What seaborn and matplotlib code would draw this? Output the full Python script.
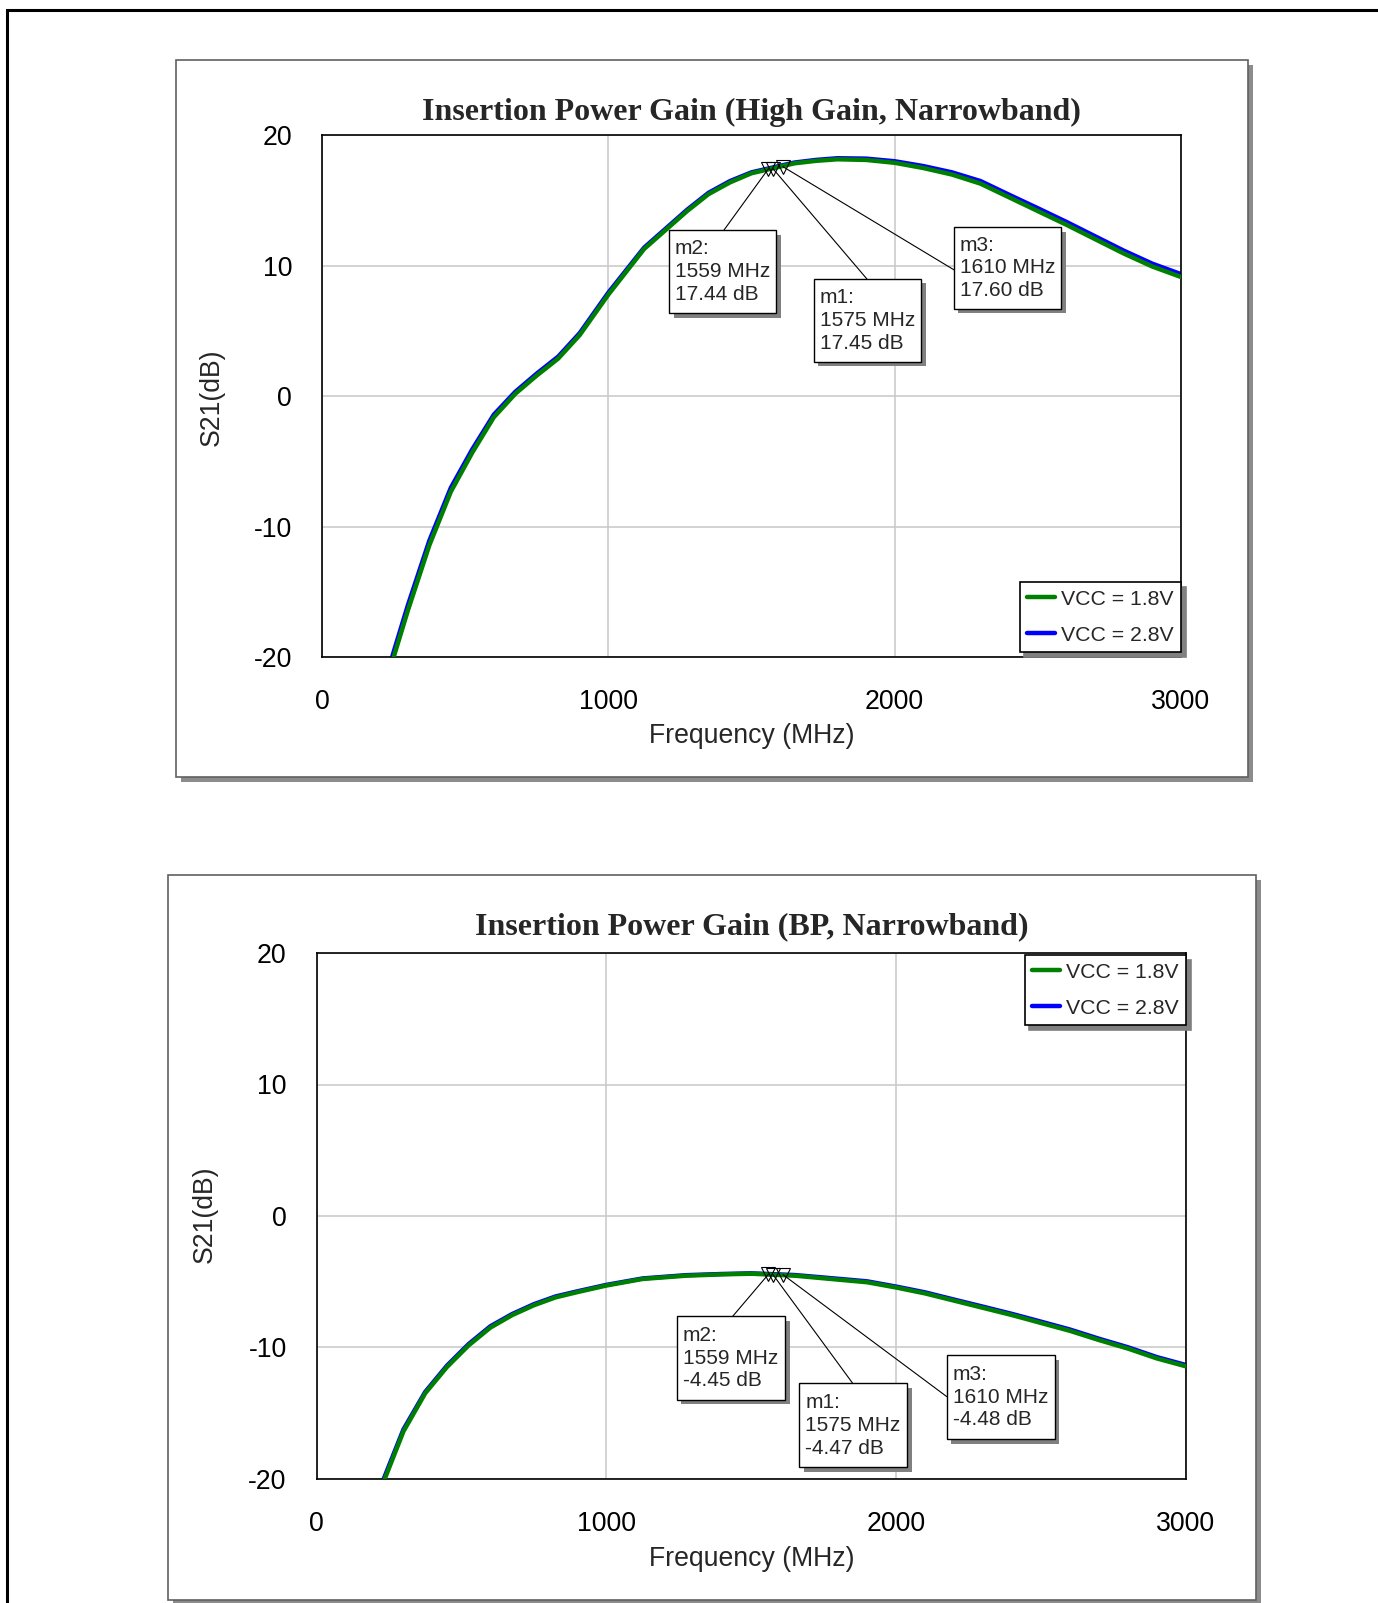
import matplotlib
matplotlib.use("Agg")
import matplotlib.pyplot as plt
import matplotlib.transforms as mtransforms
from matplotlib.patches import Rectangle
import seaborn as sns

# ---- data ----
# top chart: high gain, narrowband
freq_hg = [225, 250, 300, 375, 450, 525, 600, 675, 750, 825, 900, 1000, 1125, 1200,
           1275, 1350, 1425, 1500, 1650, 1725, 1800, 1900, 2000, 2100, 2200, 2300,
           2400, 2500, 2600, 2700, 2800, 2900, 3000]
s21_hg_18 = [-21.9, -20.0, -16.4, -11.4, -7.3, -4.3, -1.6, 0.2, 1.6, 2.9, 4.7, 7.8,
             11.3, 12.75, 14.2, 15.5, 16.4, 17.1, 17.86, 18.05, 18.17, 18.12, 17.9,
             17.5, 17.0, 16.3, 15.25, 14.2, 13.15, 12.05, 10.95, 9.95, 9.15]
s21_hg_28 = [-21.5, -19.6, -16.0, -11.05, -7.0, -4.05, -1.4, 0.35, 1.75, 3.05, 4.85,
             7.95, 11.4, 12.85, 14.3, 15.6, 16.5, 17.17, 17.92, 18.12, 18.25, 18.22,
             18.02, 17.65, 17.17, 16.5, 15.45, 14.42, 13.37, 12.27, 11.17, 10.17, 9.37]

# bottom chart: bypass, narrowband
freq_bp = [225, 300, 375, 450, 525, 600, 675, 750, 825, 900, 1000, 1125, 1275, 1400,
           1500, 1650, 1750, 1900, 2000, 2100, 2200, 2300, 2400, 2500, 2600, 2700,
           2800, 2900, 3000]
s21_bp_18 = [-20.6, -16.4, -13.5, -11.5, -9.85, -8.5, -7.55, -6.8, -6.2, -5.8, -5.3,
             -4.8, -4.55, -4.45, -4.4, -4.55, -4.75, -5.05, -5.45, -5.9, -6.45, -7.0,
             -7.55, -8.15, -8.75, -9.45, -10.1, -10.85, -11.45]
s21_bp_28 = [-20.4, -16.25, -13.4, -11.4, -9.75, -8.4, -7.47, -6.72, -6.13, -5.74,
             -5.25, -4.76, -4.51, -4.42, -4.37, -4.5, -4.69, -4.98, -5.38, -5.82,
             -6.37, -6.91, -7.46, -8.05, -8.65, -9.35, -10.0, -10.75, -11.35]

marker_names = ["m2", "m1", "m3"]
marker_freq = [1559, 1575, 1610]
marker_hg = [17.44, 17.45, 17.60]
marker_bp = [-4.45, -4.47, -4.48]

series_labels = ["VCC = 1.8V", "VCC = 2.8V"]
titles = ["Insertion Power Gain (High Gain, Narrowband)",
          "Insertion Power Gain (BP, Narrowband)"]

# marker box layout (data coords): left, right, top, bottom, leader end x, y
boxes_hg = [(1212, 1586, 12.75, 6.39, 1404, 12.75),
            (1718, 2092, 9.0, 2.64, 1903, 9.0),
            (2207, 2581, 12.98, 6.70, 2207, 9.7)]
boxes_bp = [(1243, 1617, -7.64, -14.0, 1436, -7.64),
            (1666, 2039, -12.74, -19.13, 1850, -12.74),
            (2175, 2548, -10.6, -17.0, 2175, -13.76)]

W, H = 1378, 1603
sns.set_style("white")
plt.rcParams["font.family"] = ["Liberation Sans", "DejaVu Sans"]
plt.rcParams["axes.unicode_minus"] = False

fig = plt.figure(figsize=(W / 100, H / 100), dpi=100)


def px_rect(x0, y0, x1, y1, **kw):
    return Rectangle((x0 / W, 1 - y1 / H), (x1 - x0) / W, (y1 - y0) / H,
                     transform=fig.transFigure, **kw)


# outer frame and panel frames with drop shadows
fig.patches.append(px_rect(7, 10, 1420, 1660, fill=False, ec="black", lw=2.2, zorder=-3))
for (x0, y0, x1, y1) in [(176, 60, 1248, 777), (167.5, 875, 1256, 1600)]:
    fig.patches.append(px_rect(x0 + 5, y0 + 5, x1 + 5, y1 + 5, fc="#8c8c8c", ec="none", zorder=-2))
    fig.patches.append(px_rect(x0, y0, x1, y1, fc="white", ec="#606060", lw=1.2, zorder=-1))


def draw_panel(ax, freq, v18, v28, mdb, boxes, title, title_y, leg_loc, leg_anchor,
               xlab_y, ylab_x, ylab_y):
    sns.lineplot(x=freq, y=v18, ax=ax, color="#008000", lw=3.2, label=series_labels[0], zorder=3)
    sns.lineplot(x=freq, y=v28, ax=ax, color="#0000ff", lw=3.2, label=series_labels[1], zorder=2)
    ax.set_xlim(0, 3000)
    ax.set_ylim(-20, 20)
    ax.set_xticks([0, 1000, 2000, 3000])
    ax.set_yticks([-20, -10, 0, 10, 20])
    ax.tick_params(axis="both", length=0, labelsize=19.2, colors="black")
    ax.tick_params(axis="x", pad=23)
    ax.tick_params(axis="y", pad=21.5)
    ax.grid(True, color="#c8c8c8", lw=1.1)
    ax.set_axisbelow(True)
    for sp in ax.spines.values():
        sp.set_color("black")
        sp.set_linewidth(1.2)

    ax.set_title(title, family=["Liberation Serif", "DejaVu Serif"], weight="bold",
                 fontsize=23, y=title_y, pad=0, va="center")
    ax.set_xlabel("Frequency (MHz)", fontsize=19.2)
    ax.xaxis.set_label_coords(0.5, xlab_y)
    ax.xaxis.label.set_va("center")
    ax.set_ylabel("S21(dB)", fontsize=19.2)
    ax.yaxis.set_label_coords(ylab_x, ylab_y)
    ax.yaxis.label.set_va("center")

    # markers, leaders and readout boxes
    ax.plot(marker_freq, mdb, ls="none", marker="v", ms=10, mfc="none", mec="black",
            mew=0.8, zorder=6)
    shadow_tr = ax.transData + mtransforms.ScaledTranslation(4.5 / 100, -4.5 / 100, fig.dpi_scale_trans)
    text_tr = ax.transData + mtransforms.ScaledTranslation(6 / 100, 0, fig.dpi_scale_trans)
    for name, f, db, (l, r, t, b, lx, ly) in zip(marker_names, marker_freq, mdb, boxes):
        ax.plot([f, lx], [db, ly], color="black", lw=0.8, zorder=4)
        ax.add_patch(Rectangle((l, b), r - l, t - b, transform=shadow_tr,
                               fc="#808080", ec="none", zorder=7))
        ax.add_patch(Rectangle((l, b), r - l, t - b, fc="white", ec="black", lw=1.0, zorder=8))
        ax.text(l, (t + b) / 2, f"{name}:\n{f} MHz\n{db:.2f} dB", transform=text_tr,
                ha="left", va="center", fontsize=15, linespacing=1.25, zorder=9)

    leg = ax.legend(loc=leg_loc, bbox_to_anchor=leg_anchor, borderaxespad=0,
                    fontsize=15.3, handlelength=1.3, handletextpad=0.3, borderpad=0.35,
                    labelspacing=0.8, fancybox=False, framealpha=1, edgecolor="black",
                    shadow={"ox": 3.5, "oy": -3.5, "color": "#808080", "alpha": 1})
    leg.get_frame().set_linewidth(1.2)
    leg.set_zorder(10)


ax1 = fig.add_axes([322 / W, (H - 657.4) / H, 859 / W, 522 / H])
draw_panel(ax1, freq_hg, s21_hg_18, s21_hg_28, marker_hg, boxes_hg, titles[0], 1.044,
           "lower right", (1.0, 0.0103), -0.151, -0.1285, 0.4989)

ax2 = fig.add_axes([316.5 / W, (H - 1478.7) / H, 869.5 / W, 525.6 / H])
draw_panel(ax2, freq_bp, s21_bp_18, s21_bp_28, marker_bp, boxes_bp, titles[1], 1.051,
           "upper right", (1.0, 0.996), -0.153, -0.1288, 0.5027)

fig.savefig("out.png", dpi=100)
